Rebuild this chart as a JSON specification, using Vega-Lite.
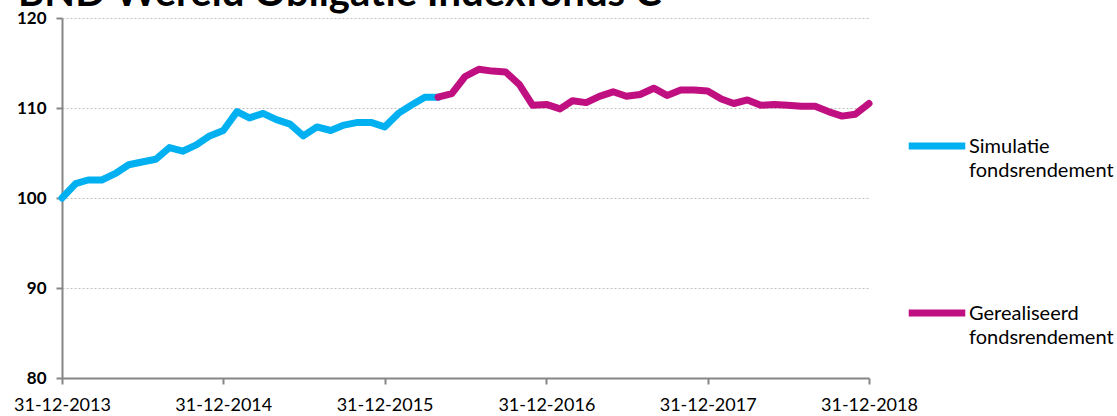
{
  "$schema": "https://vega.github.io/schema/vega-lite/v6.json",
  "width": 807,
  "height": 360,
  "autosize": {"type": "none"},
  "padding": {"left": 62, "top": 18, "right": 248, "bottom": 38},
  "background": "white",
  "title": {
    "text": "BND Wereld Obligatie Indexfonds C",
    "anchor": "start",
    "frame": "group",
    "font": "Lato",
    "fontSize": 40,
    "fontWeight": "bold",
    "color": "#000000",
    "baseline": "alphabetic",
    "offset": 0,
    "dx": -44,
    "dy": 37
  },
  "config": {
    "view": {"stroke": null},
    "font": "Lato"
  },
  "data": {
    "values": [
      {"date": "2013/12/31", "value": 100.0, "series": "Simulatie fondsrendement"},
      {"date": "2014/01/31", "value": 101.6, "series": "Simulatie fondsrendement"},
      {"date": "2014/02/28", "value": 102.0, "series": "Simulatie fondsrendement"},
      {"date": "2014/03/31", "value": 102.0, "series": "Simulatie fondsrendement"},
      {"date": "2014/04/30", "value": 102.7, "series": "Simulatie fondsrendement"},
      {"date": "2014/05/31", "value": 103.7, "series": "Simulatie fondsrendement"},
      {"date": "2014/06/30", "value": 104.0, "series": "Simulatie fondsrendement"},
      {"date": "2014/07/31", "value": 104.3, "series": "Simulatie fondsrendement"},
      {"date": "2014/08/31", "value": 105.6, "series": "Simulatie fondsrendement"},
      {"date": "2014/09/30", "value": 105.2, "series": "Simulatie fondsrendement"},
      {"date": "2014/10/31", "value": 105.9, "series": "Simulatie fondsrendement"},
      {"date": "2014/11/30", "value": 106.9, "series": "Simulatie fondsrendement"},
      {"date": "2014/12/31", "value": 107.5, "series": "Simulatie fondsrendement"},
      {"date": "2015/01/31", "value": 109.6, "series": "Simulatie fondsrendement"},
      {"date": "2015/02/28", "value": 108.9, "series": "Simulatie fondsrendement"},
      {"date": "2015/03/31", "value": 109.4, "series": "Simulatie fondsrendement"},
      {"date": "2015/04/30", "value": 108.7, "series": "Simulatie fondsrendement"},
      {"date": "2015/05/31", "value": 108.2, "series": "Simulatie fondsrendement"},
      {"date": "2015/06/30", "value": 106.9, "series": "Simulatie fondsrendement"},
      {"date": "2015/07/31", "value": 107.9, "series": "Simulatie fondsrendement"},
      {"date": "2015/08/31", "value": 107.5, "series": "Simulatie fondsrendement"},
      {"date": "2015/09/30", "value": 108.1, "series": "Simulatie fondsrendement"},
      {"date": "2015/10/31", "value": 108.4, "series": "Simulatie fondsrendement"},
      {"date": "2015/11/30", "value": 108.4, "series": "Simulatie fondsrendement"},
      {"date": "2015/12/31", "value": 107.9, "series": "Simulatie fondsrendement"},
      {"date": "2016/01/31", "value": 109.4, "series": "Simulatie fondsrendement"},
      {"date": "2016/02/29", "value": 110.3, "series": "Simulatie fondsrendement"},
      {"date": "2016/03/31", "value": 111.2, "series": "Simulatie fondsrendement"},
      {"date": "2016/04/30", "value": 111.2, "series": "Simulatie fondsrendement"},
      {"date": "2016/04/30", "value": 111.2, "series": "Gerealiseerd fondsrendement"},
      {"date": "2016/05/31", "value": 111.6, "series": "Gerealiseerd fondsrendement"},
      {"date": "2016/06/30", "value": 113.5, "series": "Gerealiseerd fondsrendement"},
      {"date": "2016/07/31", "value": 114.3, "series": "Gerealiseerd fondsrendement"},
      {"date": "2016/08/31", "value": 114.1, "series": "Gerealiseerd fondsrendement"},
      {"date": "2016/09/30", "value": 114.0, "series": "Gerealiseerd fondsrendement"},
      {"date": "2016/10/31", "value": 112.6, "series": "Gerealiseerd fondsrendement"},
      {"date": "2016/11/30", "value": 110.3, "series": "Gerealiseerd fondsrendement"},
      {"date": "2016/12/31", "value": 110.4, "series": "Gerealiseerd fondsrendement"},
      {"date": "2017/01/31", "value": 109.9, "series": "Gerealiseerd fondsrendement"},
      {"date": "2017/02/28", "value": 110.8, "series": "Gerealiseerd fondsrendement"},
      {"date": "2017/03/31", "value": 110.6, "series": "Gerealiseerd fondsrendement"},
      {"date": "2017/04/30", "value": 111.3, "series": "Gerealiseerd fondsrendement"},
      {"date": "2017/05/31", "value": 111.8, "series": "Gerealiseerd fondsrendement"},
      {"date": "2017/06/30", "value": 111.3, "series": "Gerealiseerd fondsrendement"},
      {"date": "2017/07/31", "value": 111.5, "series": "Gerealiseerd fondsrendement"},
      {"date": "2017/08/31", "value": 112.2, "series": "Gerealiseerd fondsrendement"},
      {"date": "2017/09/30", "value": 111.4, "series": "Gerealiseerd fondsrendement"},
      {"date": "2017/10/31", "value": 112.0, "series": "Gerealiseerd fondsrendement"},
      {"date": "2017/11/30", "value": 112.0, "series": "Gerealiseerd fondsrendement"},
      {"date": "2017/12/31", "value": 111.9, "series": "Gerealiseerd fondsrendement"},
      {"date": "2018/01/31", "value": 111.0, "series": "Gerealiseerd fondsrendement"},
      {"date": "2018/02/28", "value": 110.5, "series": "Gerealiseerd fondsrendement"},
      {"date": "2018/03/31", "value": 110.9, "series": "Gerealiseerd fondsrendement"},
      {"date": "2018/04/30", "value": 110.3, "series": "Gerealiseerd fondsrendement"},
      {"date": "2018/05/31", "value": 110.4, "series": "Gerealiseerd fondsrendement"},
      {"date": "2018/06/30", "value": 110.3, "series": "Gerealiseerd fondsrendement"},
      {"date": "2018/07/31", "value": 110.2, "series": "Gerealiseerd fondsrendement"},
      {"date": "2018/08/31", "value": 110.2, "series": "Gerealiseerd fondsrendement"},
      {"date": "2018/09/30", "value": 109.6, "series": "Gerealiseerd fondsrendement"},
      {"date": "2018/10/31", "value": 109.1, "series": "Gerealiseerd fondsrendement"},
      {"date": "2018/11/30", "value": 109.3, "series": "Gerealiseerd fondsrendement"},
      {"date": "2018/12/31", "value": 110.5, "series": "Gerealiseerd fondsrendement"}
    ]
  },
  "mark": {"type": "line", "strokeWidth": 7, "strokeCap": "round", "strokeJoin": "round"},
  "encoding": {
    "x": {
      "field": "date",
      "type": "temporal",
      "scale": {"domain": [{"year": 2013, "month": 12, "date": 31}, {"year": 2018, "month": 12, "date": 31}], "nice": false},
      "axis": {
        "title": null,
        "values": [
          {"year": 2013, "month": 12, "date": 31},
          {"year": 2014, "month": 12, "date": 31},
          {"year": 2015, "month": 12, "date": 31},
          {"year": 2016, "month": 12, "date": 31},
          {"year": 2017, "month": 12, "date": 31},
          {"year": 2018, "month": 12, "date": 31}
        ],
        "format": "%d-%m-%Y",
        "grid": false,
        "domainColor": "#868686",
        "domainWidth": 2,
        "tickColor": "#868686",
        "tickWidth": 2,
        "tickSize": 6,
        "labelFont": "Lato",
        "labelFontSize": 18,
        "labelColor": "#000000",
        "labelPadding": 12,
        "labelAlign": "center",
        "labelFlush": false,
        "labelOverlap": false
      }
    },
    "y": {
      "field": "value",
      "type": "quantitative",
      "scale": {"domain": [80, 120], "nice": false, "zero": false},
      "axis": {
        "title": null,
        "values": [80, 90, 100, 110, 120],
        "grid": true,
        "gridColor": "#BFBFBF",
        "gridDash": [2, 2],
        "gridWidth": 1,
        "domainColor": "#868686",
        "domainWidth": 2,
        "tickColor": "#868686",
        "tickWidth": 2,
        "tickSize": 6,
        "labelFont": "Lato",
        "labelFontSize": 17,
        "labelFontWeight": "bold",
        "labelColor": "#000000",
        "labelPadding": 10
      }
    },
    "color": {
      "field": "series",
      "type": "nominal",
      "scale": {
        "domain": ["Simulatie fondsrendement", "Gerealiseerd fondsrendement"],
        "range": ["#00B0F0", "#C00F80"]
      },
      "legend": {
        "title": null,
        "orient": "none",
        "legendX": 843,
        "legendY": 96,
        "symbolType": "stroke",
        "symbolSize": 3200,
        "symbolStrokeWidth": 7,
        "labelFont": "Lato",
        "labelFontSize": 20,
        "labelColor": "#000000",
        "labelOffset": 0,
        "labelLimit": 300,
        "labelBaseline": "alphabetic",
        "labelExpr": "split(datum.label, ' ')",
        "rowPadding": 100,
        "encode": {
          "labels": {"update": {"dy": {"value": 7}, "lineHeight": {"value": 24}}}
        }
      }
    }
  }
}
